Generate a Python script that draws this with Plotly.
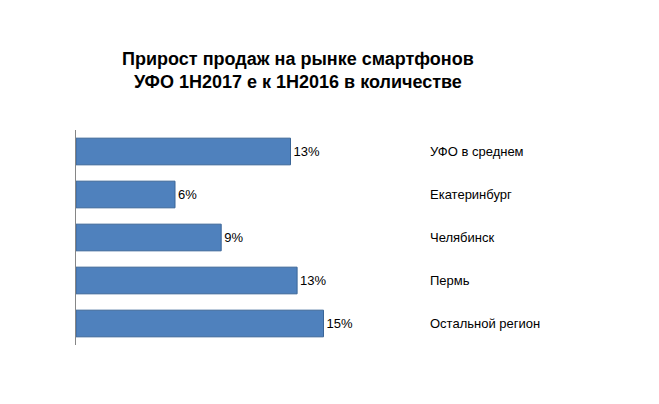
import plotly.graph_objects as go

# данные
regions = ["УФО в среднем", "Екатеринбург", "Челябинск", "Пермь", "Остальной регион"]
growth = [13.0, 6.0, 8.8, 13.4, 15.0]
labels = ["13%", "6%", "9%", "13%", "15%"]

fig = go.Figure()
fig.add_trace(go.Bar(
    x=growth, y=regions, orientation="h",
    marker=dict(color="#4F81BD", line=dict(color="#3A6597", width=1)),
    text=labels, textposition="outside", cliponaxis=False,
    textfont=dict(family="Liberation Sans, Arial", size=13, color="#000000"),
))

for r in regions:
    fig.add_annotation(x=1.067, xref="paper", y=r, yref="y", text=r,
                       showarrow=False, xanchor="left",
                       font=dict(family="Liberation Sans, Arial", size=13, color="#000000"))

fig.update_layout(
    width=659, height=404,
    margin=dict(l=68, r=261, t=122, b=67),
    paper_bgcolor="white", plot_bgcolor="white",
    showlegend=False, bargap=0.38,
    title=dict(text="<b>Прирост продаж на рынке смартфонов<br>УФО 1H2017 е к 1H2016 в количестве</b>",
               x=0.44, xanchor="center", y=0.86, yanchor="middle",
               font=dict(family="Liberation Sans, Arial", size=18, color="#000000")),
    xaxis=dict(range=[0, 20], visible=False),
    yaxis=dict(autorange="reversed", showticklabels=False, showline=True,
               linecolor="#868686", linewidth=1, ticks=""),
)

fig.write_html("out.html")
